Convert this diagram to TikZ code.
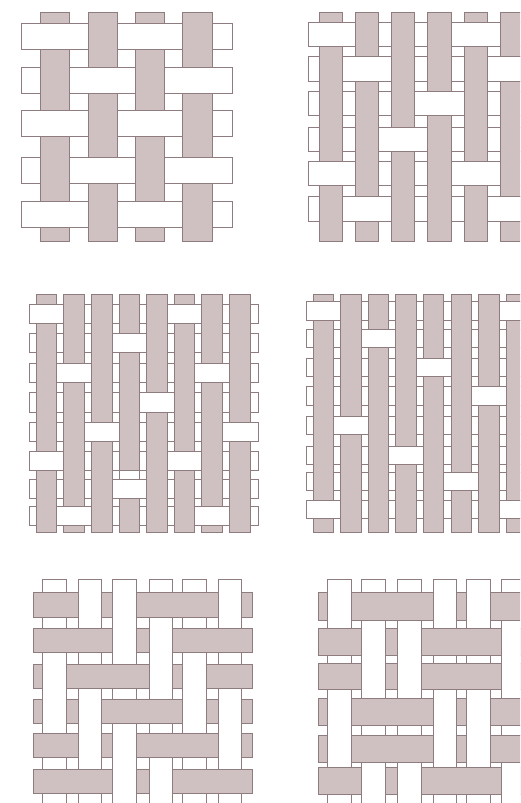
\documentclass[tikz,border=0pt]{standalone}
\usepackage{tikz}

\definecolor{threadpink}{HTML}{CFC1C2}
\definecolor{threadline}{HTML}{8E7C7E}

\newcommand{\setthreads}[2]{%
  \foreach \a/\b [count=\i] in #1 {\coordinate (warpl\i) at (\a,0); \coordinate (warpr\i) at (\b,0);}
  \foreach \a/\b [count=\i] in #2 {\coordinate (weftt\i) at (0,\a); \coordinate (weftb\i) at (0,\b);}
}
\newcommand{\weftover}[2]{%
  \fill[white] ([xshift=-0.6pt]warpl#1 |- weftt#2) rectangle ([xshift=0.6pt]warpr#1 |- weftb#2);
  \draw[edge] ([xshift=-0.6pt]warpl#1 |- weftt#2) -- ([xshift=0.6pt]warpr#1 |- weftt#2) ([xshift=-0.6pt]warpl#1 |- weftb#2) -- ([xshift=0.6pt]warpr#1 |- weftb#2);
}
\newcommand{\warpover}[2]{%
  \fill[white] ([yshift=0.6pt]warpl#1 |- weftt#2) rectangle ([yshift=-0.6pt]warpr#1 |- weftb#2);
  \draw[edge] ([yshift=0.6pt]warpl#1 |- weftt#2) -- ([yshift=-0.6pt]warpl#1 |- weftb#2) ([yshift=0.6pt]warpr#1 |- weftt#2) -- ([yshift=-0.6pt]warpr#1 |- weftb#2);
}

\begin{document}
\begin{tikzpicture}[
    x=1pt, y=-1pt,
    weft/.style={draw=threadline, fill=white, line width=0.7pt},
    warp/.style={draw=threadline, fill=threadpink, line width=0.7pt},
    edge/.style={draw=threadline, line width=0.7pt}
]
\useasboundingbox (0,0) rectangle (520,803);
\clip (0,0) rectangle (520,803);
\fill[white] (0,0) rectangle (520,803);

\def\warps{40.3/69.7, 88/117.3, 135/164.7, 182.3/212.3}
\def\wefts{23.3/49.7, 67/93, 110/136.3, 157.3/183.3, 201/227.3}
\setthreads{\warps}{\wefts}
\foreach \a/\b in \wefts \draw[weft] (21,\a) rectangle (232.7,\b);
\foreach \a/\b in \warps \draw[warp] (\a,12) rectangle (\b,241);
\foreach \i/\j in {1/1,3/1,2/2,4/2,1/3,3/3,2/4,4/4,1/5,3/5} \weftover{\i}{\j};

\def\warps{319/342.3, 355.3/378.7, 391.3/414.7, 427.7/451, 464/487, 500/530}
\def\wefts{22/46, 56.7/81, 91.3/115.3, 127/151.3, 161/185.7, 196.7/221}
\setthreads{\warps}{\wefts}
\foreach \a/\b in \wefts \draw[weft] (308.3,\a) rectangle (530,\b);
\foreach \a/\b in \warps \draw[warp] (\a,12.3) rectangle (\b,241);
\foreach \i/\j in {1/1,5/1,2/2,6/2,4/3,3/4,1/5,5/5,2/6,6/6} \weftover{\i}{\j};

\def\warps{36.3/56.3, 63.7/84, 91.3/112, 119/139.3, 146.3/167, 174/194.3, 201.7/222.3, 229.7/250}
\def\wefts{304.3/323.7, 333.3/352.7, 363/382.3, 392.7/412, 422.3/441.7, 451/470.3, 479/498, 506.7/525.7}
\setthreads{\warps}{\wefts}
\foreach \a/\b in \wefts \draw[weft] (29,\a) rectangle (258,\b);
\foreach \a/\b in \warps \draw[warp] (\a,294) rectangle (\b,532);
\foreach \i/\j in {1/1,6/1,4/2,2/3,7/3,5/4,3/5,8/5,1/6,6/6,4/7,2/8,7/8} \weftover{\i}{\j};
\draw[weft] (warpl4 |- weftb6) rectangle (warpr4 |- weftt7);

\def\warps{313.3/333, 340.7/361, 368.3/388.7, 395.7/416, 423.3/443.7, 451/471.3, 478.3/499, 506/530}
\def\wefts{301.7/320, 329.3/347.3, 358.7/376.7, 386.7/405, 416.7/434.7, 446.3/464.3, 472.7/490.7, 500/518}
\setthreads{\warps}{\wefts}
\foreach \a/\b in \wefts \draw[weft] (306.7,\a) rectangle (530,\b);
\foreach \a/\b in \warps \draw[warp] (\a,294) rectangle (\b,532);
\foreach \i/\j in {1/1,8/1,3/2,5/3,7/4,2/5,4/6,6/7,1/8,8/8} \weftover{\i}{\j};

\def\warps{42.7/66, 78.7/101.7, 112.7/136, 149/172.3, 182.7/206, 218.3/241.7}
\def\wefts{592.7/617.3, 628/652.3, 664/688.3, 699/723.7, 733/757.3, 769/793.7}
\setthreads{\warps}{\wefts}
\foreach \a/\b in \warps \draw[weft] (\a,579.3) rectangle (\b,810);
\foreach \a/\b in \wefts \draw[warp] (33,\a) rectangle (252,\b);
\foreach \i/\j in {2/1,3/1,6/1,3/2,4/2,1/3,4/3,5/3,1/4,2/4,5/4,6/4,2/5,3/5,6/5,3/6,4/6} \warpover{\i}{\j};

\def\warps{327.7/351.3, 361.7/385, 397.7/421, 433.3/456.7, 466.7/490, 501.7/530}
\def\wefts{592.7/620.3, 628/655.3, 663/689.7, 698.7/725.7, 735/762, 767.7/794.7}
\setthreads{\warps}{\wefts}
\foreach \a/\b in \warps \draw[weft] (\a,579.3) rectangle (\b,810);
\foreach \a/\b in \wefts \draw[warp] (318,\a) rectangle (530,\b);
\foreach \i/\j in {1/1,4/1,5/1,2/2,3/2,6/2,2/3,3/3,6/3,1/4,4/4,5/4,1/5,4/5,5/5,2/6,3/6,6/6} \warpover{\i}{\j};
\end{tikzpicture}
\end{document}
